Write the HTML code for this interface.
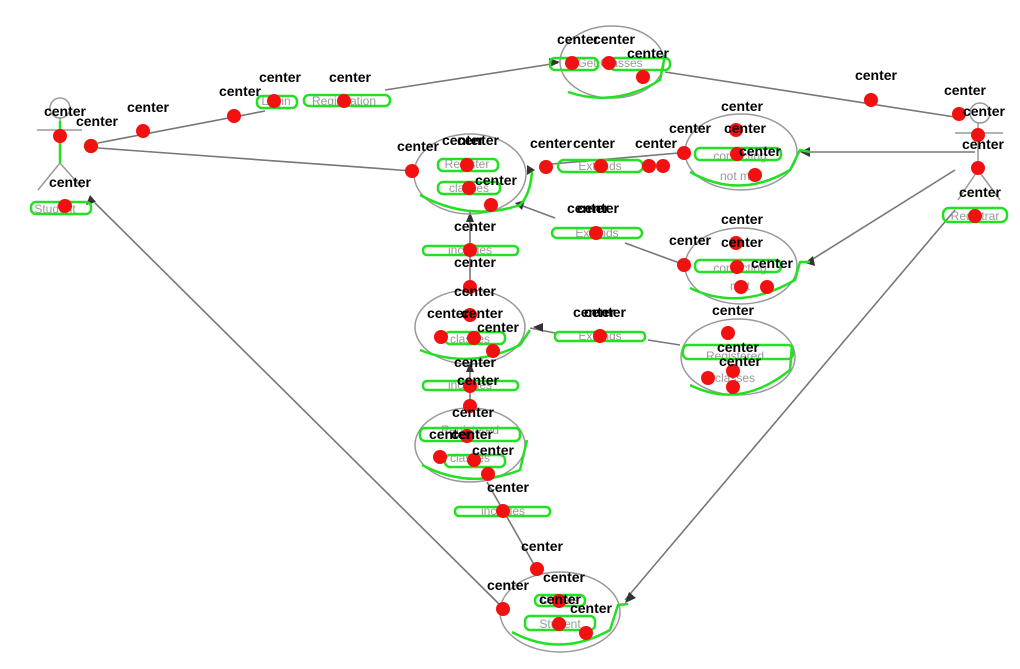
<!DOCTYPE html>
<html><head><meta charset="utf-8"><style>
html,body{margin:0;padding:0;background:#fff;width:1020px;height:669px;overflow:hidden}
svg{display:block}
.c{font:bold 14px "Liberation Sans",sans-serif;fill:#000;text-anchor:middle}
.g{font:12px "Liberation Sans",sans-serif;fill:#999;text-anchor:middle}
.l{stroke:#777;stroke-width:1.6;fill:none}
.e{stroke:#999;stroke-width:1.5;fill:none}
.gr{stroke:#22e022;stroke-width:2.5;fill:none;stroke-linejoin:round}
</style></head><body>
<svg width="1020" height="669" viewBox="0 0 1020 669" xmlns="http://www.w3.org/2000/svg">
<g class="l">
<line x1="98" y1="143" x2="265" y2="111"/>
<line x1="385" y1="90" x2="558" y2="63"/>
<line x1="98" y1="148" x2="413" y2="171"/>
<line x1="95" y1="203" x2="500" y2="605"/>
<line x1="665" y1="72" x2="955" y2="117"/>
<line x1="975" y1="152" x2="805" y2="152"/>
<line x1="955" y1="170" x2="808" y2="262"/>
<line x1="955" y1="210" x2="625" y2="600"/>
<line x1="520" y1="205" x2="555" y2="218"/>
<line x1="625" y1="243" x2="685" y2="265"/>
<line x1="470" y1="212" x2="470" y2="290"/>
<line x1="470" y1="362" x2="470" y2="408"/>
<line x1="487" y1="482" x2="540" y2="575"/>
<line x1="680" y1="345" x2="648" y2="340"/>
<line x1="540" y1="165" x2="690" y2="152"/>
<line x1="530" y1="328" x2="555" y2="333"/>
</g>
<g fill="#333">
<polygon points="560,62 549,58 550,67"/>
<polygon points="800,152 810,147 810,157"/>
<polygon points="805,263 813,256 815,266"/>
<polygon points="625,603 629,592 636,598"/>
<polygon points="515,203 525,200 522,210"/>
<polygon points="470,212 466,222 474,222"/>
<polygon points="470,362 466,372 474,372"/>
<polygon points="533,327 543,323 543,332"/>
<polygon points="90,195 86,205 96,202"/>
<polygon points="535,170 527,165 527,175"/>
</g>
<g class="e" stroke="#888">
<circle cx="60" cy="108" r="10"/>
<line x1="37" y1="130" x2="82" y2="130"/>
<line x1="60" y1="118" x2="60" y2="163"/>
<line x1="60" y1="163" x2="38" y2="190"/>
<line x1="60" y1="163" x2="82" y2="188"/>
<circle cx="980" cy="113" r="10"/>
<line x1="955" y1="133" x2="1003" y2="133"/>
<line x1="978" y1="123" x2="978" y2="170"/>
<line x1="978" y1="170" x2="958" y2="200"/>
<line x1="978" y1="170" x2="1000" y2="200"/>
</g>
<g class="e">
<ellipse cx="612" cy="62" rx="52" ry="36"/>
<ellipse cx="470" cy="174" rx="56" ry="40"/>
<ellipse cx="741" cy="152" rx="56" ry="38"/>
<ellipse cx="741" cy="266" rx="56" ry="38"/>
<ellipse cx="470" cy="327" rx="55" ry="37"/>
<ellipse cx="738" cy="357" rx="57" ry="38"/>
<ellipse cx="470" cy="445" rx="55" ry="37"/>
<ellipse cx="560" cy="612" rx="60" ry="40"/>
</g>
<g class="g">
<text x="276" y="105">Login</text><text x="344" y="105">Registration</text>
<text x="610" y="67">Get Classes</text>
<text x="55" y="213">Student</text><text x="975" y="220">Registrar</text>
<text x="467" y="168">Register</text><text x="469" y="192">classes</text>
<text x="600" y="170">Extends</text><text x="597" y="237">Extends</text><text x="600" y="340">Extends</text>
<text x="740" y="160">conflicting</text><text x="740" y="180">not met</text>
<text x="740" y="272">conflicting</text><text x="740" y="290">met</text>
<text x="470" y="254">includes</text><text x="470" y="389">includes</text><text x="503" y="515">includes</text>
<text x="470" y="343">classes</text><text x="470" y="434">Registered</text><text x="470" y="462">classes</text>
<text x="735" y="382">classes</text><text x="735" y="360">Registered</text>
<text x="560" y="604">Update</text><text x="560" y="628">Student</text>
</g>
<g class="gr">
<path d="M420,195 Q470,222 520,205 Q530,195 532,172"/>
<path d="M690,172 Q740,200 790,170 L800,150 L810,152"/>
<path d="M690,288 Q740,312 795,280 L800,262 L810,262"/>
<path d="M420,350 Q470,370 520,345 L530,330"/>
<path d="M690,385 Q740,410 790,370 L792,345"/>
<path d="M422,465 Q470,490 520,470 L527,440"/>
<path d="M512,632 Q560,658 610,630 L618,605 L628,604"/>
<path d="M568,92 Q615,108 660,80 L665,55"/>
<rect x="31" y="202" width="60" height="12" rx="5"/>
<rect x="943" y="208" width="64" height="14" rx="6"/>
<rect x="257" y="96" width="40" height="12" rx="5"/>
<rect x="304" y="95" width="86" height="11" rx="5"/>
<rect x="438" y="159" width="60" height="12" rx="5"/>
<rect x="438" y="182" width="62" height="12" rx="5"/>
<rect x="558" y="160" width="85" height="12" rx="6"/>
<rect x="552" y="228" width="90" height="10" rx="5"/>
<rect x="555" y="332" width="90" height="9" rx="4"/>
<rect x="423" y="246" width="95" height="9" rx="4"/>
<rect x="423" y="381" width="95" height="9" rx="4"/>
<rect x="455" y="507" width="95" height="9" rx="4"/>
<rect x="695" y="148" width="86" height="12" rx="5"/>
<rect x="695" y="260" width="86" height="12" rx="5"/>
<rect x="683" y="345" width="110" height="14" rx="5"/>
<rect x="420" y="428" width="100" height="13" rx="5"/>
<rect x="445" y="455" width="60" height="12" rx="5"/>
<rect x="445" y="332" width="60" height="12" rx="5"/>
<rect x="525" y="616" width="70" height="14" rx="5"/>
<rect x="535" y="595" width="50" height="11" rx="5"/>
<rect x="550" y="58" width="48" height="12" rx="5"/>
<rect x="610" y="58" width="60" height="12" rx="5"/>
<circle cx="91" cy="146" r="6"/>
<line x1="60" y1="121" x2="60" y2="163"/>
</g>
<g fill="#f21010">
<circle cx="60" cy="136" r="7"/><circle cx="91" cy="146" r="7"/><circle cx="143" cy="131" r="7"/>
<circle cx="234" cy="116" r="7"/><circle cx="274" cy="101" r="7"/><circle cx="344" cy="101" r="7"/>
<circle cx="572" cy="63" r="7"/><circle cx="609" cy="63" r="7"/><circle cx="643" cy="77" r="7"/>
<circle cx="871" cy="100" r="7"/><circle cx="959" cy="114" r="7"/><circle cx="978" cy="135" r="7"/>
<circle cx="978" cy="168" r="7"/><circle cx="975" cy="216" r="7"/><circle cx="65" cy="206" r="7"/>
<circle cx="412" cy="171" r="7"/><circle cx="467" cy="165" r="7"/><circle cx="469" cy="188" r="7"/>
<circle cx="491" cy="205" r="7"/><circle cx="546" cy="167" r="7"/><circle cx="601" cy="166" r="7"/>
<circle cx="649" cy="166" r="7"/><circle cx="663" cy="166" r="7"/><circle cx="684" cy="153" r="7"/>
<circle cx="736" cy="130" r="7"/><circle cx="737" cy="154" r="7"/><circle cx="755" cy="175" r="7"/>
<circle cx="470" cy="250" r="7"/><circle cx="470" cy="287" r="7"/><circle cx="596" cy="233" r="7"/>
<circle cx="684" cy="265" r="7"/><circle cx="736" cy="243" r="7"/><circle cx="737" cy="267" r="7"/>
<circle cx="741" cy="287" r="7"/><circle cx="767" cy="287" r="7"/>
<circle cx="470" cy="315" r="7"/><circle cx="441" cy="337" r="7"/><circle cx="474" cy="338" r="7"/>
<circle cx="493" cy="351" r="7"/><circle cx="600" cy="336" r="7"/><circle cx="728" cy="333" r="7"/>
<circle cx="733" cy="371" r="7"/><circle cx="708" cy="378" r="7"/><circle cx="733" cy="387" r="7"/>
<circle cx="470" cy="386" r="7"/><circle cx="470" cy="406" r="7"/><circle cx="467" cy="436" r="7"/>
<circle cx="440" cy="457" r="7"/><circle cx="474" cy="460" r="7"/><circle cx="488" cy="474" r="7"/>
<circle cx="503" cy="511" r="7"/><circle cx="537" cy="569" r="7"/><circle cx="503" cy="609" r="7"/>
<circle cx="559" cy="601" r="7"/><circle cx="559" cy="624" r="7"/><circle cx="586" cy="633" r="7"/>
</g>
<g class="c">
<text x="65" y="116">center</text><text x="97" y="126">center</text><text x="148" y="112">center</text>
<text x="240" y="96">center</text><text x="280" y="82">center</text><text x="350" y="82">center</text>
<text x="578" y="44">center</text><text x="614" y="44">center</text><text x="648" y="58">center</text>
<text x="876" y="80">center</text><text x="965" y="95">center</text><text x="984" y="116">center</text>
<text x="983" y="149">center</text><text x="980" y="197">center</text><text x="70" y="187">center</text>
<text x="418" y="151">center</text><text x="463" y="145">center</text><text x="478" y="145">center</text>
<text x="496" y="185">center</text><text x="551" y="148">center</text><text x="594" y="148">center</text>
<text x="656" y="148">center</text><text x="690" y="133">center</text><text x="742" y="111">center</text>
<text x="745" y="133">center</text><text x="760" y="156">center</text>
<text x="475" y="231">center</text><text x="475" y="267">center</text><text x="588" y="213">center</text>
<text x="598" y="213">center</text><text x="690" y="245">center</text><text x="742" y="224">center</text>
<text x="742" y="247">center</text><text x="772" y="268">center</text>
<text x="475" y="296">center</text><text x="448" y="318">center</text><text x="482" y="318">center</text>
<text x="498" y="332">center</text><text x="594" y="317">center</text><text x="605" y="317">center</text>
<text x="733" y="315">center</text><text x="738" y="352">center</text><text x="740" y="366">center</text>
<text x="475" y="367">center</text><text x="478" y="385">center</text><text x="473" y="417">center</text>
<text x="450" y="439">center</text><text x="472" y="439">center</text><text x="493" y="455">center</text>
<text x="508" y="492">center</text><text x="542" y="551">center</text><text x="508" y="590">center</text>
<text x="564" y="582">center</text><text x="560" y="604">center</text><text x="591" y="613">center</text>
</g>
</svg>
</body></html>
